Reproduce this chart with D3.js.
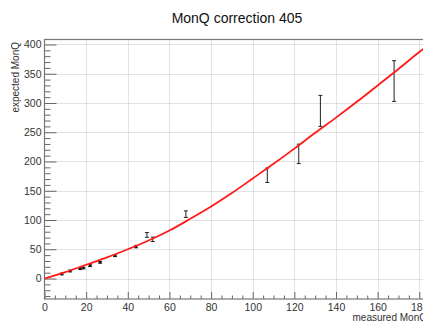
<!DOCTYPE html>
<html>
<head>
<meta charset="utf-8">
<script src="https://cdn.jsdelivr.net/npm/d3@7"></script>
<style>
  html, body { margin: 0; padding: 0; background: #fff; overflow: hidden; }
  text { font-family: "Liberation Sans", Arial, sans-serif; }
</style>
</head>
<body>
<div id="canvas"></div>
<script>
// measured points (small error bars)
const ptX   = [8.3, 12.3, 17.1, 18.7, 21.9, 26.7, 33.9, 44.0, 49.2, 52.0, 67.9, 107.0, 122.1, 132.5, 167.9];
const ptY   = [7.7, 12.8, 16.8, 18.0, 22.0, 27.7, 39.0, 54.5, 74.5, 67.0, 110.0, 176.5, 213.0, 286.5, 337.5];
const ptErr = [1.5, 1.5, 1.5, 1.5, 1.5, 1.5, 1.5, 2.0, 4.0, 3.8, 5.6, 12.3, 16.6, 26.5, 34.8];

// red correction curve
const lineX = [0, 10, 20, 30, 40, 50, 60, 70, 80, 90, 100, 110, 120, 130, 140, 150, 160, 170, 180, 184];
const lineY = [0, 11, 23.5, 36, 50, 65, 82, 102, 123, 146, 171, 196, 222, 249, 275, 302, 330, 358, 387, 398];

const xTicks = [0, 20, 40, 60, 80, 100, 120, 140, 160, 180];
const yTicks = [0, 50, 100, 150, 200, 250, 300, 350, 400];

const W = 423, H = 323;
const L = 44.5, R = 427, T = 39.5, B = 299;

const svg = d3.select("#canvas").append("svg")
  .attr("width", W).attr("height", H);

const x = d3.scaleLinear().domain([0, 183.7]).range([L, R]);
const y = d3.scaleLinear().domain([-35, 408.5]).range([B, T]);

// grid
const grid = svg.append("g")
  .attr("stroke", "#c4c4c4").attr("stroke-width", 1).attr("stroke-dasharray", "1,1");
grid.selectAll(".gx").data(xTicks.slice(1)).enter().append("line")
  .attr("x1", d => Math.round(x(d)) + 0.5).attr("x2", d => Math.round(x(d)) + 0.5)
  .attr("y1", T).attr("y2", B);
grid.selectAll(".gy").data(yTicks).enter().append("line")
  .attr("x1", L).attr("x2", R)
  .attr("y1", d => Math.round(y(d)) + 0.5).attr("y2", d => Math.round(y(d)) + 0.5);

// axes
const xAxis = d3.axisBottom(x).tickValues(d3.range(0, 185, 5))
  .tickSize(0).tickFormat("");
const gx = svg.append("g").attr("transform", `translate(0,${B})`).call(xAxis);
gx.select(".domain").remove();
gx.selectAll(".tick line")
  .attr("y2", d => d % 20 === 0 ? -7 : -3.5)
  .attr("stroke", "#666");
svg.append("g").attr("transform", `translate(0,${B})`)
  .call(d3.axisBottom(x).tickValues(xTicks).tickSize(0).tickPadding(5))
  .call(g => g.select(".domain").remove())
  .selectAll("text").attr("font-size", 10.5).attr("fill", "#333");

const gy = svg.append("g").attr("transform", `translate(${L},0)`)
  .call(d3.axisLeft(y).tickValues(d3.range(-30, 410, 10)).tickSize(0).tickFormat(""));
gy.select(".domain").remove();
gy.selectAll(".tick line")
  .attr("x2", d => d % 50 === 0 ? 12 : 6)
  .attr("stroke", "#666");
svg.append("g").attr("transform", `translate(${L},0)`)
  .call(d3.axisLeft(y).tickValues(yTicks).tickSize(0).tickPadding(3))
  .call(g => g.select(".domain").remove())
  .selectAll("text").attr("font-size", 10.5).attr("fill", "#333");

// frame
svg.append("rect")
  .attr("x", L).attr("y", T).attr("width", R - L).attr("height", B - T)
  .attr("fill", "none").attr("stroke", "#777").attr("stroke-width", 1.2);

// error bars
const eb = svg.append("g").attr("stroke", "#222").attr("stroke-width", 1);
eb.selectAll(".v").data(ptX).enter().append("line")
  .attr("x1", (d, i) => x(d)).attr("x2", (d, i) => x(d))
  .attr("y1", (d, i) => y(ptY[i] - ptErr[i])).attr("y2", (d, i) => y(ptY[i] + ptErr[i]));
eb.selectAll(".ct").data(ptX).enter().append("line")
  .attr("x1", d => x(d) - 2).attr("x2", d => x(d) + 2)
  .attr("y1", (d, i) => y(ptY[i] + ptErr[i])).attr("y2", (d, i) => y(ptY[i] + ptErr[i]));
eb.selectAll(".cb").data(ptX).enter().append("line")
  .attr("x1", d => x(d) - 2).attr("x2", d => x(d) + 2)
  .attr("y1", (d, i) => y(ptY[i] - ptErr[i])).attr("y2", (d, i) => y(ptY[i] - ptErr[i]));
svg.append("g").selectAll("circle").data(ptX).enter().append("circle")
  .attr("cx", d => x(d)).attr("cy", (d, i) => y(ptY[i]))
  .attr("r", (d, i) => ptErr[i] < 3 ? 1.3 : 0)
  .attr("fill", "#111");

// red curve
const lineData = lineX.map((d, i) => [d, lineY[i]]);
svg.append("path")
  .datum(lineData)
  .attr("fill", "none").attr("stroke", "#ff1a1a").attr("stroke-width", 1.8)
  .attr("d", d3.line().x(d => x(d[0])).y(d => y(d[1])).curve(d3.curveMonotoneX));

// title and axis labels
svg.append("text").attr("x", 237).attr("y", 23)
  .attr("text-anchor", "middle").attr("font-size", 14).attr("fill", "#111")
  .text("MonQ correction 405");
svg.append("text").attr("transform", "translate(19,42) rotate(-90)")
  .attr("text-anchor", "end").attr("font-size", 10).attr("fill", "#333")
  .text("expected MonQ");
svg.append("text").attr("x", R).attr("y", 321)
  .attr("text-anchor", "end").attr("font-size", 10).attr("fill", "#333")
  .text("measured MonQ");
</script>
</body>
</html>
